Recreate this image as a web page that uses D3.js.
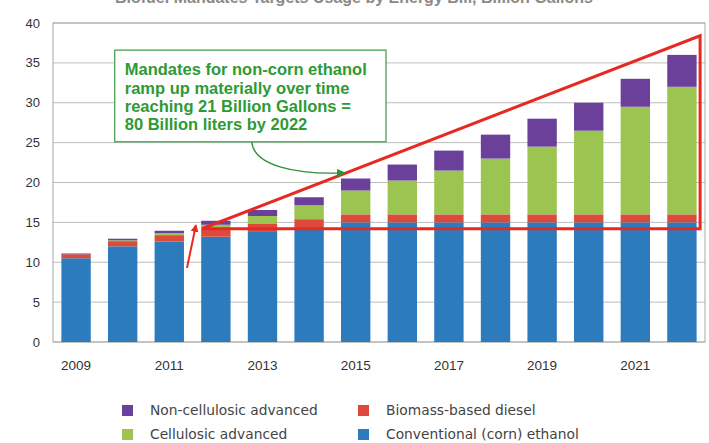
<!DOCTYPE html>
<html>
<head>
<meta charset="utf-8">
<script src="https://cdn.jsdelivr.net/npm/d3@7"></script>
<style>
  body { margin: 0; background: #fff; }
  svg { display: block; }
</style>
</head>
<body>
<svg id="chart" width="709" height="443"></svg>
<script>
// RFS2 mandated volumes, billion gallons
var years = [2009, 2010, 2011, 2012, 2013, 2014, 2015, 2016, 2017, 2018, 2019, 2020, 2021, 2022];
var conventional = [10.5, 12.0, 12.6, 13.2, 13.8, 14.4, 15.0, 15.0, 15.0, 15.0, 15.0, 15.0, 15.0, 15.0];
var biomassDiesel = [0.5, 0.65, 0.8, 1.0, 1.0, 1.0, 1.0, 1.0, 1.0, 1.0, 1.0, 1.0, 1.0, 1.0];
var cellulosic = [0, 0.1, 0.25, 0.5, 1.0, 1.75, 3.0, 4.25, 5.5, 7.0, 8.5, 10.5, 13.5, 16.0];
var nonCellulosic = [0.1, 0.2, 0.3, 0.5, 0.75, 1.0, 1.5, 2.0, 2.5, 3.0, 3.5, 3.5, 3.5, 4.0];
var yTicks = [0, 5, 10, 15, 20, 25, 30, 35, 40];
var xTickYears = [2009, 2011, 2013, 2015, 2017, 2019, 2021];

var seriesNames = ['Conventional (corn) ethanol', 'Biomass-based diesel', 'Cellulosic advanced', 'Non-cellulosic advanced'];
var seriesColors = ['#2b7bbd', '#dd4a3c', '#9cc450', '#6a409a'];

// annotation text + shapes (in year / value units)
var noteLines = ['Mandates for non-corn ethanol', 'ramp up materially over time', 'reaching 21 Billion Gallons =', '80 Billion liters by 2022'];
var triangle = [[2011.7, 14.2], [2022.39, 38.4], [2022.39, 14.2]];
var redArrow = [[2011.38, 9.3], [2011.57, 14.6]];
var noteBox = {x0: 2009.83, x1: 2015.65, y0: 36.6, y1: 25.1};
var greenArrow = [[2012.77, 25.1], [2014.75, 21.2]];

var svg = d3.select('#chart');
var margin = {left: 53, right: 4, top: 23, bottom: 101};
var W = 709, H = 443;

var x = d3.scaleBand().domain(years).range([margin.left, W - margin.right]).paddingInner(0.37).paddingOuter(0.18);
var y = d3.scaleLinear().domain([0, 40]).range([H - margin.bottom, margin.top]);
// continuous year scale through band centres, for annotations
var xc = d3.scaleLinear().domain([2009, 2022])
  .range([x(2009) + x.bandwidth() / 2, x(2022) + x.bandwidth() / 2]);

// title, mostly cut off at the top edge as in the source image
svg.append('text').attr('x', 354).attr('y', 3).attr('text-anchor', 'middle')
  .attr('font-family', 'Liberation Sans, Arial').attr('font-size', 16).attr('font-weight', 'bold')
  .attr('fill', '#8a8a8a').text('Biofuel Mandates Targets Usage by Energy Bill, Billion Gallons');

// grid
svg.append('g').selectAll('line').data(yTicks).join('line')
  .attr('x1', margin.left).attr('x2', W - margin.right)
  .attr('y1', d => y(d)).attr('y2', d => y(d))
  .attr('stroke', '#bdbdbd').attr('stroke-width', 1);

svg.append('rect').attr('x', margin.left).attr('y', y(40))
  .attr('width', W - margin.right - margin.left).attr('height', y(0) - y(40))
  .attr('fill', 'none').attr('stroke', '#a8a8a8').attr('stroke-width', 1);

// y labels
svg.append('g').selectAll('text').data(yTicks).join('text')
  .attr('x', 40).attr('y', d => y(d) + 4.5).attr('text-anchor', 'end')
  .attr('font-family', 'Liberation Sans, Arial').attr('font-size', 13).attr('fill', '#333')
  .text(d => d);

// x labels
svg.append('g').selectAll('text').data(xTickYears).join('text')
  .attr('x', d => x(d) + x.bandwidth() / 2).attr('y', 370).attr('text-anchor', 'middle')
  .attr('font-family', 'Liberation Sans Narrow, Liberation Sans, Arial').attr('font-size', 13.5).attr('fill', '#333')
  .text(d => d);

// stacked bars
var rows = years.map(function (yr, i) {
  return {year: yr, s0: conventional[i], s1: biomassDiesel[i], s2: cellulosic[i], s3: nonCellulosic[i]};
});
var stack = d3.stack().keys(['s0', 's1', 's2', 's3'])(rows);
svg.append('g').selectAll('g').data(stack).join('g')
  .attr('fill', (d, i) => seriesColors[i])
  .selectAll('rect').data(d => d).join('rect')
  .attr('x', d => x(d.data.year)).attr('width', x.bandwidth())
  .attr('y', d => y(d[1])).attr('height', d => y(d[0]) - y(d[1]));

// markers
var defs = svg.append('defs');
defs.append('marker').attr('id', 'redHead').attr('viewBox', '0 0 10 10').attr('refX', 8).attr('refY', 5)
  .attr('markerWidth', 4).attr('markerHeight', 4).attr('orient', 'auto')
  .append('path').attr('d', 'M0,0 L10,5 L0,10 z').attr('fill', '#e62a22');
defs.append('marker').attr('id', 'greenHead').attr('viewBox', '0 0 10 10').attr('refX', 8).attr('refY', 5)
  .attr('markerWidth', 7).attr('markerHeight', 7).attr('orient', 'auto')
  .append('path').attr('d', 'M0,0 L10,5 L0,10 z').attr('fill', '#2f8f3a');

// red triangle
svg.append('path')
  .attr('d', d3.line().x(d => xc(d[0])).y(d => y(d[1]))(triangle) + 'Z')
  .attr('fill', 'none').attr('stroke', '#e62a22').attr('stroke-width', 3).attr('stroke-linejoin', 'miter');

svg.append('line')
  .attr('x1', xc(redArrow[0][0])).attr('y1', y(redArrow[0][1]))
  .attr('x2', xc(redArrow[1][0])).attr('y2', y(redArrow[1][1]))
  .attr('stroke', '#e62a22').attr('stroke-width', 2).attr('marker-end', 'url(#redHead)');

// note box
svg.append('rect')
  .attr('x', xc(noteBox.x0)).attr('y', y(noteBox.y0))
  .attr('width', xc(noteBox.x1) - xc(noteBox.x0)).attr('height', y(noteBox.y1) - y(noteBox.y0))
  .attr('fill', '#fff').attr('stroke', '#3a9a44').attr('stroke-width', 1.2);

svg.append('g').selectAll('text').data(noteLines).join('text')
  .attr('x', xc(noteBox.x0) + 10).attr('y', (d, i) => y(noteBox.y0) + 25 + i * 18.4)
  .attr('font-family', 'Liberation Sans, Arial').attr('font-size', 16.5).attr('font-weight', 'bold')
  .attr('fill', '#2e9a34').text(d => d);

// curved green connector
var gx0 = xc(greenArrow[0][0]), gy0 = y(greenArrow[0][1]);
var gx1 = xc(greenArrow[1][0]), gy1 = y(greenArrow[1][1]);
svg.append('path')
  .attr('d', 'M' + gx0 + ',' + gy0 + ' C' + (gx0 + 2) + ',' + (gy0 + 24) + ' ' + (gx0 + 45) + ',' + (gy1 + 2) + ' ' + gx1 + ',' + gy1)
  .attr('fill', 'none').attr('stroke', '#2f8f3a').attr('stroke-width', 1.3).attr('marker-end', 'url(#greenHead)');

// legend
var legend = [
  {name: 'Non-cellulosic advanced', color: seriesColors[3], col: 0, row: 0},
  {name: 'Biomass-based diesel', color: seriesColors[1], col: 1, row: 0},
  {name: 'Cellulosic advanced', color: seriesColors[2], col: 0, row: 1},
  {name: 'Conventional (corn) ethanol', color: seriesColors[0], col: 1, row: 1}
];
var lg = svg.append('g').selectAll('g').data(legend).join('g')
  .attr('transform', d => 'translate(' + (122 + d.col * 236) + ',' + (410 + d.row * 24) + ')');
lg.append('rect').attr('x', 0).attr('y', -5).attr('width', 11).attr('height', 11).attr('fill', d => d.color);
lg.append('text').attr('x', 28).attr('y', 5)
  .attr('font-family', 'DejaVu Sans, Verdana').attr('font-size', 13.8).attr('fill', '#444')
  .text(d => d.name);
</script>
</body>
</html>
